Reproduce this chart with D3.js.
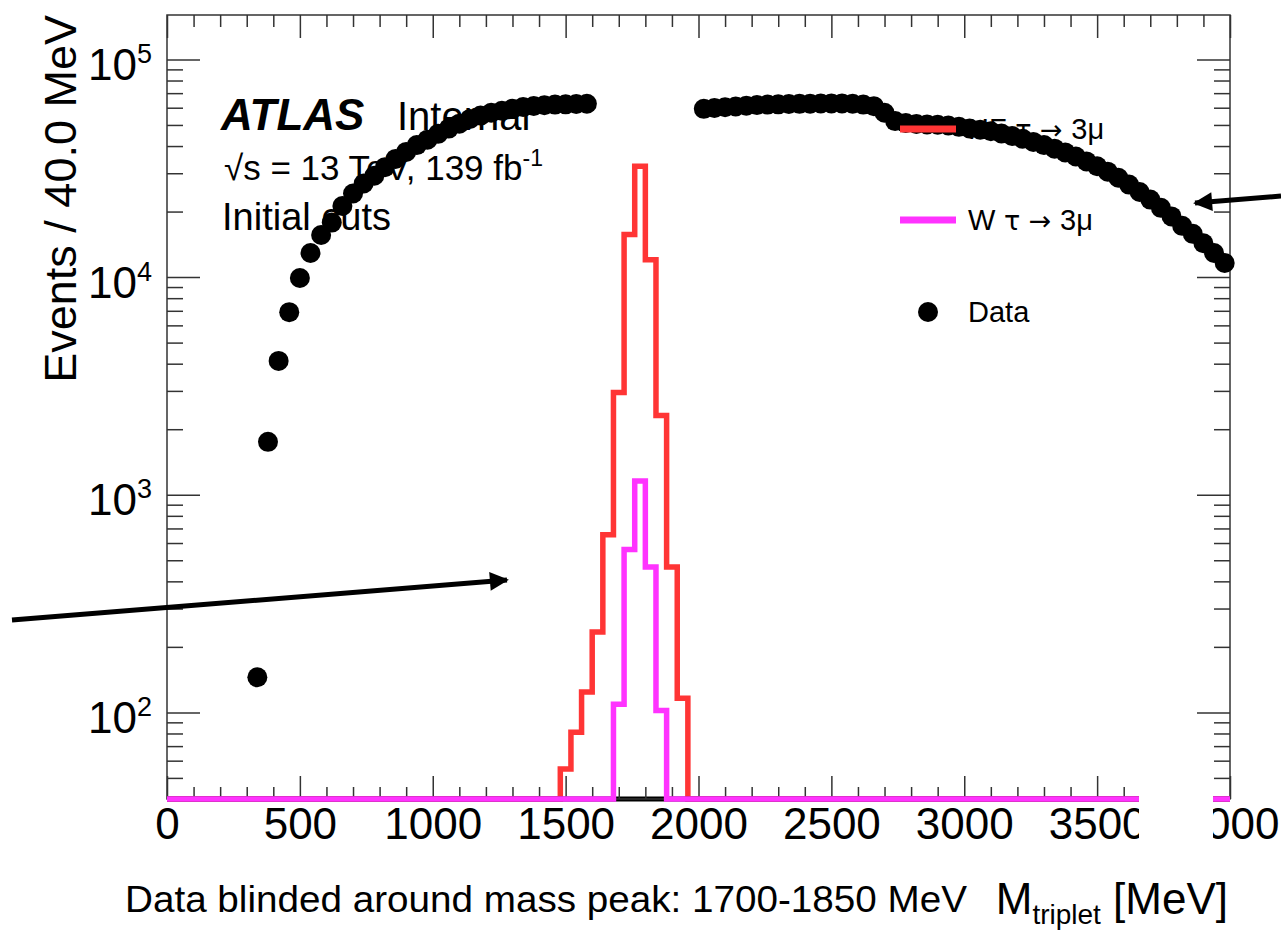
<!DOCTYPE html>
<html>
<head>
<meta charset="utf-8">
<script src="https://cdn.jsdelivr.net/npm/d3@7"></script>
<style>
body { margin: 0; background: #fff; }
svg { display: block; }
text { font-family: "Liberation Sans", Arial, sans-serif; }
</style>
</head>
<body>
<svg width="1281" height="933"></svg>
<script>
// data points (bin centres, 40 MeV bins), blinded 1600-2000
var dataMass = [340,380,420,460,500,540,580,620,660,700,740,780,820,860,900,940,980,1020,1060,1100,
  1140,1180,1220,1260,1300,1340,1380,1420,1460,1500,1540,1580,
  2020,2060,2100,2140,2180,2220,2260,2300,2340,2380,2420,2460,2500,2540,2580,2620,2660,2700,2740,2780,
  2820,2860,2900,2940,2980,3020,3060,3100,3140,3180,3220,3260,3300,3340,3380,3420,3460,3500,3540,3580,
  3620,3660,3700,3740,3780,3820,3860,3900,3940,3980];
var dataEvents = [145,1750,4120,6900,9900,12900,15600,17800,21200,24200,26900,29200,32000,34900,37600,40400,42800,45500,48100,50700,
  53300,55200,56900,58100,59300,60400,61100,61600,62000,62200,62400,62600,
  59300,59800,60300,60800,61300,61700,62000,62200,62400,62500,62600,62700,62800,62800,62600,62000,61000,56900,52100,51000,
  50500,50300,50100,49700,49000,48200,47500,46800,45700,44500,43200,41800,40400,38900,37400,35800,34000,32300,30500,28600,
  26600,24600,22700,20800,19000,17200,15800,14300,12900,11600];

// signal histograms (lower bin edges, 40 MeV)
var hfBinLow = [1480,1520,1560,1600,1640,1680,1720,1760,1800,1840,1880,1920,1960];
var hfEvents = [55,81,124,234,655,2950,15700,32300,12000,2310,466,116,38];
var wBinLow = [1680,1720,1760,1800,1840];
var wEvents = [109,560,1157,466,102];

var binWidth = 40;
var xTicks = [0,500,1000,1500,2000,2500,3000,3500,4000];
var yDecades = [2,3,4,5];
var legendNames = ["HF", "W", "Data"];

var svg = d3.select("svg");
var pLeft = 167, pRight = 1230, pTop = 15, pBottom = 799;

var x = d3.scaleLinear().domain([0, 4000]).range([pLeft, pRight]);
var y = d3.scaleLog().domain([40, 1.6e5]).range([pBottom, pTop]);

function clampY(v) { return y(Math.max(v, 40)); }

// outline of a histogram (contiguous bins), baseline over the whole axis
function histPath(lows, vals) {
  var p = d3.path();
  var first = lows[0], last = lows[lows.length - 1] + binWidth;
  p.moveTo(x(0), y(40));
  p.lineTo(x(first), y(40));
  lows.forEach(function(lo, i) {
    p.lineTo(x(lo), clampY(vals[i]));
    p.lineTo(x(lo + binWidth), clampY(vals[i]));
  });
  p.lineTo(x(last), y(40));
  p.lineTo(x(4000), y(40));
  return p.toString();
}

// labels behind the points
var lab = svg.append("g");
lab.append("text").attr("x", 221).attr("y", 130)
  .attr("font-size", 44).attr("font-weight", "bold").attr("font-style", "italic").text("ATLAS");
lab.append("text").attr("x", 397).attr("y", 130).attr("font-size", 40).text("Internal");
var lumi = lab.append("text").attr("x", 224).attr("y", 180).attr("font-size", 35);
lumi.append("tspan").text("\u221as = 13 TeV, 139 fb");
lumi.append("tspan").attr("font-size", 23).attr("dy", -14).text("-1");
lab.append("text").attr("x", 222).attr("y", 230).attr("font-size", 38).text("Initial  cuts");

var legY = [129, 220, 312];
legendNames.forEach(function(t, i) {
  var lt = lab.append("text").attr("x", 968).attr("y", legY[i] + 10).attr("font-size", 29);
  lt.append("tspan").text(t);
  if (i < 2) {
    lt.append("tspan").attr("font-family", "DejaVu Sans").attr("font-size", 27).text(" \u03c4 \u2192 ");
    lt.append("tspan").text("3\u03bc");
  }
});

svg.append("path").attr("d", histPath(hfBinLow, hfEvents))
  .attr("fill", "none").attr("stroke", "#ff3535").attr("stroke-width", 5.5);

// blinded region baseline
svg.append("line")
  .attr("x1", x(0)).attr("x2", x(4000)).attr("y1", y(40)).attr("y2", y(40))
  .attr("stroke", "#000").attr("stroke-width", 5);

// axes
function clean(g) { g.select(".domain").remove(); g.selectAll("line").attr("stroke", "#333").attr("stroke-width", 1.5); }

var minorX = d3.range(0, 4001, 100).filter(function(v) { return v % 500 !== 0; });
var minorY = [];
[1, 2, 3, 4].forEach(function(k) {
  for (var m = 2; m <= 9; m++) { var v = m * Math.pow(10, k); if (v > 40 && v < 1.6e5) minorY.push(v); }
});
var majorY = yDecades.map(function(k) { return Math.pow(10, k); });

var gx = svg.append("g").attr("transform", "translate(0," + pBottom + ")")
  .call(d3.axisBottom(x).tickValues(xTicks).tickSize(-23).tickSizeOuter(0).tickPadding(9).tickFormat(d3.format("d")));
gx.selectAll("text").attr("font-size", 44).attr("fill", "#000").attr("font-family", "Liberation Sans, Arial, sans-serif");
clean(gx);
svg.append("g").attr("transform", "translate(0," + pBottom + ")")
  .call(d3.axisBottom(x).tickValues(minorX).tickSize(-12).tickSizeOuter(0).tickFormat("")).call(clean);
svg.append("g").attr("transform", "translate(0," + pTop + ")")
  .call(d3.axisTop(x).tickValues(xTicks).tickSize(-23).tickSizeOuter(0).tickFormat("")).call(clean);
svg.append("g").attr("transform", "translate(0," + pTop + ")")
  .call(d3.axisTop(x).tickValues(minorX).tickSize(-12).tickSizeOuter(0).tickFormat("")).call(clean);

var gy = svg.append("g").attr("transform", "translate(" + pLeft + ",0)")
  .call(d3.axisLeft(y).tickValues(majorY).tickSize(-33).tickSizeOuter(0).tickPadding(15).tickFormat(function() { return ""; }));
gy.selectAll(".tick text").each(function(d) {
  var t = d3.select(this).attr("dy", null).attr("y", 20).attr("font-size", 44).attr("fill", "#000")
    .attr("font-family", "Liberation Sans, Arial, sans-serif");
  t.append("tspan").text("10");
  t.append("tspan").attr("font-size", 27).attr("dy", -17).text(Math.round(Math.log10(d)));
});
clean(gy);
svg.append("g").attr("transform", "translate(" + pLeft + ",0)")
  .call(d3.axisLeft(y).tickValues(minorY).tickSize(-16).tickSizeOuter(0).tickFormat("")).call(clean);
svg.append("g").attr("transform", "translate(" + pRight + ",0)")
  .call(d3.axisRight(y).tickValues(majorY).tickSize(-33).tickSizeOuter(0).tickFormat("")).call(clean);
svg.append("g").attr("transform", "translate(" + pRight + ",0)")
  .call(d3.axisRight(y).tickValues(minorY).tickSize(-16).tickSizeOuter(0).tickFormat("")).call(clean);

svg.append("rect").attr("x", pLeft).attr("y", pTop).attr("width", pRight - pLeft).attr("height", pBottom - pTop)
  .attr("fill", "none").attr("stroke", "#333").attr("stroke-width", 1.5);
svg.append("path").attr("d", histPath(wBinLow, wEvents))
  .attr("fill", "none").attr("stroke", "#ff33ff").attr("stroke-width", 5.5);

// data points
svg.append("g").selectAll("circle")
  .data(dataMass.map(function(m, i) { return [m, dataEvents[i]]; }))
  .enter().append("circle")
    .attr("cx", function(d) { return x(d[0]); })
    .attr("cy", function(d) { return y(d[1]); })
    .attr("r", 10)
    .attr("fill", "#000");

// legend samples on top
svg.append("line").attr("x1", 900).attr("x2", 956).attr("y1", legY[0]).attr("y2", legY[0])
  .attr("stroke", "#ff3535").attr("stroke-width", 7);
svg.append("line").attr("x1", 900).attr("x2", 956).attr("y1", legY[1]).attr("y2", legY[1])
  .attr("stroke", "#ff33ff").attr("stroke-width", 7);
svg.append("circle").attr("cx", 928).attr("cy", legY[2]).attr("r", 10).attr("fill", "#000");

// axis titles
svg.append("text").attr("transform", "translate(76,15) rotate(-90)")
  .attr("text-anchor", "end").attr("font-size", 45).text("Events / 40.0 MeV");
var xt = svg.append("text").attr("x", 1228).attr("y", 914).attr("text-anchor", "end").attr("font-size", 44);
xt.append("tspan").text("M");
xt.append("tspan").attr("font-size", 28).attr("dy", 10).text("triplet");
xt.append("tspan").attr("dy", -10).text(" [MeV]");

// slide annotations
svg.append("defs").append("marker")
  .attr("id", "head").attr("viewBox", "0 0 10 10").attr("refX", 9).attr("refY", 5)
  .attr("markerWidth", 4.4).attr("markerHeight", 3.8).attr("markerUnits", "strokeWidth").attr("orient", "auto")
  .append("path").attr("d", "M0,0L10,5L0,10z").attr("fill", "#000");
svg.append("line").attr("x1", 12).attr("y1", 620).attr("x2", 507).attr("y2", 580)
  .attr("stroke", "#000").attr("stroke-width", 5).attr("marker-end", "url(#head)");
svg.append("line").attr("x1", 1281).attr("y1", 196).attr("x2", 1195).attr("y2", 203)
  .attr("stroke", "#000").attr("stroke-width", 5).attr("marker-end", "url(#head)");

svg.append("text").attr("x", 125).attr("y", 912).attr("font-size", 36)
  .attr("font-family", "'Open Sans', sans-serif").attr("textLength", 842).attr("lengthAdjust", "spacingAndGlyphs")
  .text("Data blinded around mass peak: 1700-1850 MeV");

// pasted-over patch on the slide
svg.append("rect").attr("x", 1139).attr("y", 784).attr("width", 74).attr("height", 72).attr("fill", "#fff");
</script>
</body>
</html>
